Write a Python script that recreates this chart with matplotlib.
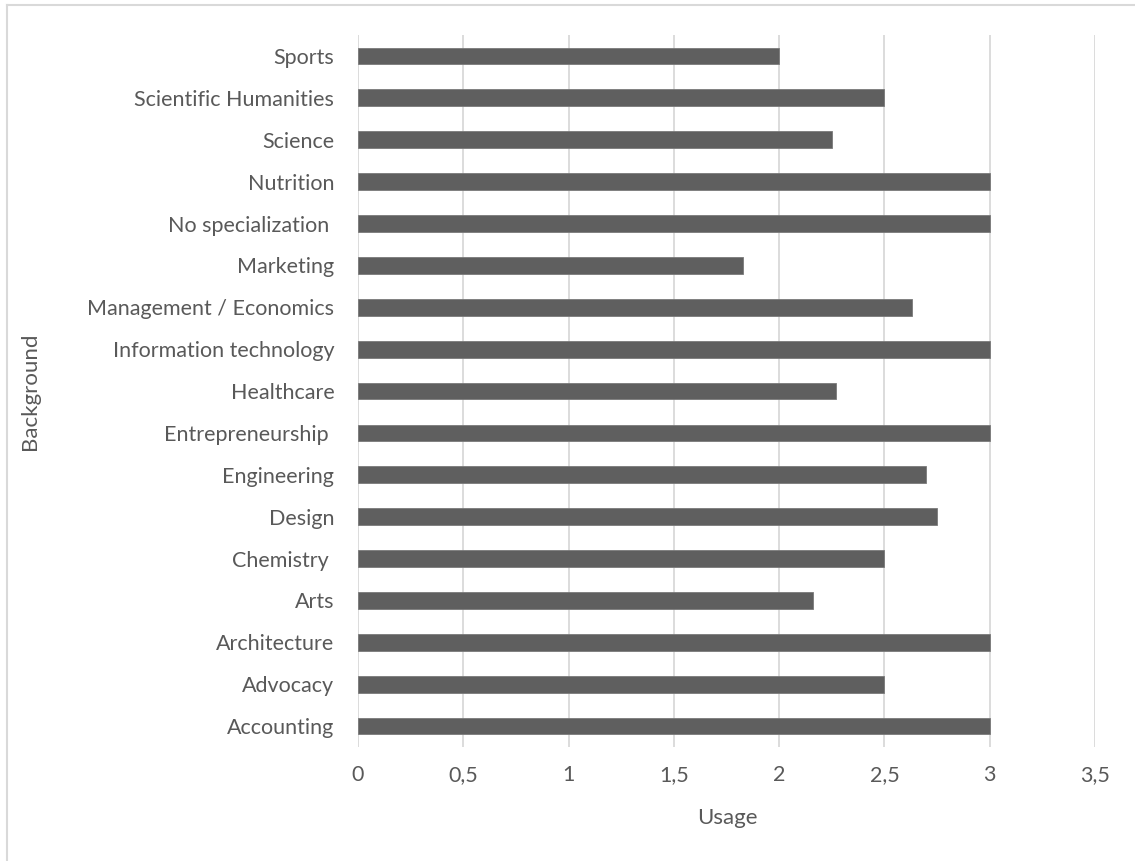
import matplotlib
matplotlib.use('Agg')
import matplotlib.pyplot as plt
from matplotlib.lines import Line2D

plt.rcParams['font.family'] = ['Lato', 'DejaVu Sans']

backgrounds = ['Accounting', 'Advocacy', 'Architecture', 'Arts', 'Chemistry ',
               'Design', 'Engineering', 'Entrepreneurship ', 'Healthcare',
               'Information technology', 'Management / Economics', 'Marketing',
               'No specialization ', 'Nutrition', 'Science',
               'Scientific Humanities', 'Sports']
usage = [3, 2.5, 3, 2.16, 2.5, 2.75, 2.7, 3, 2.27, 3, 2.63, 1.83,
         3, 3, 2.25, 2.5, 2]
xticks = [0, 0.5, 1, 1.5, 2, 2.5, 3, 3.5]
xtick_labels = ['0', '0,5', '1', '1,5', '2', '2,5', '3', '3,5']

text_col = '#595959'
grid_col = '#d9d9d9'

fig = plt.figure(figsize=(11.35, 8.61), dpi=100)
ax = fig.add_axes([0.3154, 0.1324, 0.6493, 0.8269])

ax.barh(range(len(backgrounds)), usage, height=0.4, color='#5f5f5f',
        edgecolor='#7a7a7a', linewidth=0.6, zorder=3)

ax.set_xlim(0, 3.5)
ax.set_ylim(-0.5, len(backgrounds) - 0.5)
ax.set_xticks(xticks)
ax.set_xticklabels(xtick_labels)
ax.set_yticks(range(len(backgrounds)))
ax.set_yticklabels(backgrounds)

ax.grid(axis='x', color=grid_col, linewidth=1.3, zorder=0)
for s in ax.spines.values():
    s.set_visible(False)
ax.tick_params(axis='both', length=0, labelsize=15.5, labelcolor=text_col)
ax.tick_params(axis='y', pad=17)
ax.tick_params(axis='x', pad=13)

ax.set_xlabel('Usage', fontsize=16, color=text_col)
ax.set_ylabel('Background', fontsize=16, color=text_col)
ax.xaxis.set_label_coords(0.5007, -0.0857)
ax.yaxis.set_label_coords(-0.4315, 0.5)

# light frame on the left and top edges
fig.add_artist(Line2D([0.0065, 0.0065], [0, 0.994], transform=fig.transFigure,
                      color=grid_col, linewidth=1.5))
fig.add_artist(Line2D([0.0065, 1], [0.994, 0.994], transform=fig.transFigure,
                      color=grid_col, linewidth=1.5))

fig.savefig('out.png', dpi=100, facecolor='white')
